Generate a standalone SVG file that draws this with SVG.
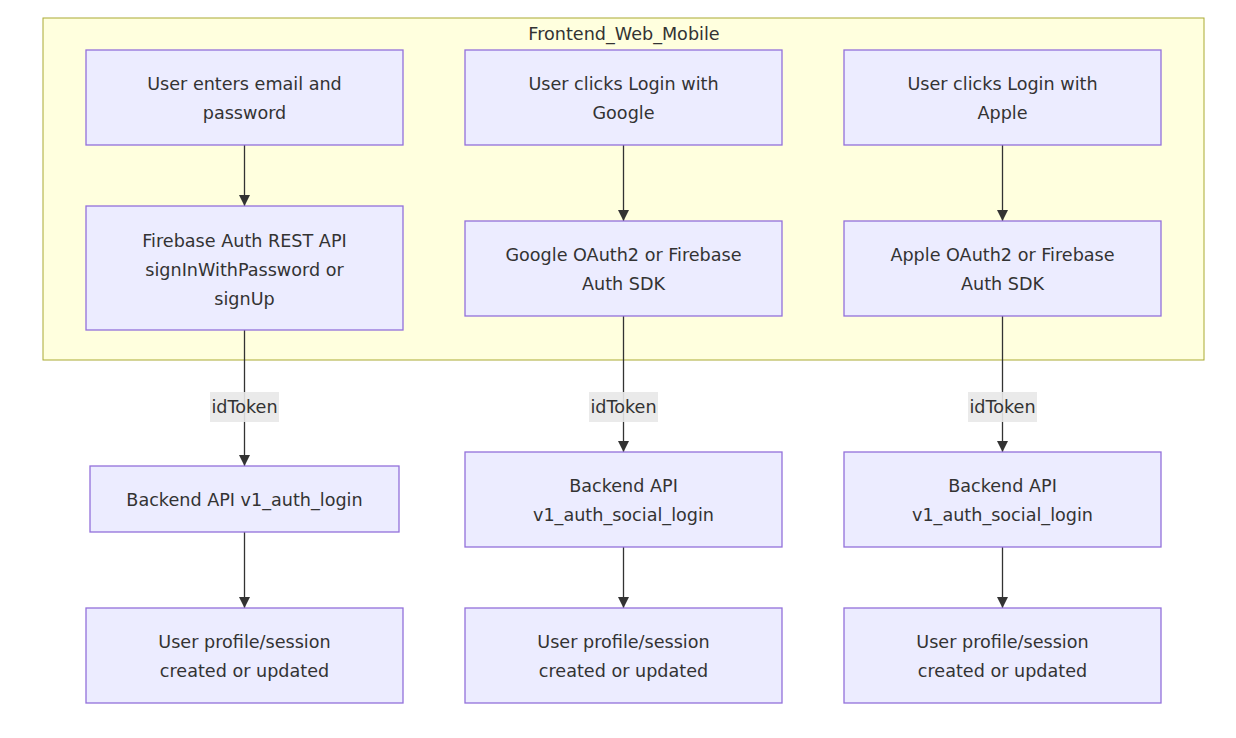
<svg xmlns="http://www.w3.org/2000/svg" width="1236" height="738" viewBox="0 0 1236 738">
<style>
  .node rect { fill: #ECECFF; stroke: #9370DB; stroke-width: 1.3; }
  .node text, .cl text, .lbl text { font-family: "DejaVu Sans", "Trebuchet MS", sans-serif; font-size: 17.6px; fill: #333; text-anchor: middle; }
  .edge { stroke: #333; stroke-width: 1.3; fill: none; marker-end: url(#arr); }
  .lbl rect { fill: #e8e8e8; opacity: 0.9; }
</style>
<defs>
  <marker id="arr" viewBox="0 0 10 10" refX="10" refY="5" markerWidth="11" markerHeight="11" markerUnits="userSpaceOnUse" orient="auto">
    <path d="M0,0 L10,5 L0,10 z" fill="#333"/>
  </marker>
</defs>
<rect width="1236" height="738" fill="#fff"/>
<g id="cluster" class="cl">
  <rect x="43" y="18" width="1161" height="342" fill="#ffffde" stroke="#aaaa33" stroke-width="1"/>
  <text x="624" y="40">Frontend_Web_Mobile</text>
</g>
<g id="edges">
  <line class="edge" x1="244.5" y1="145" x2="244.5" y2="206"/>
  <line class="edge" x1="244.5" y1="330" x2="244.5" y2="466"/>
  <line class="edge" x1="244.5" y1="532" x2="244.5" y2="608"/>
  <line class="edge" x1="623.5" y1="145" x2="623.5" y2="221"/>
  <line class="edge" x1="623.5" y1="316" x2="623.5" y2="452"/>
  <line class="edge" x1="623.5" y1="547" x2="623.5" y2="608"/>
  <line class="edge" x1="1002.5" y1="145" x2="1002.5" y2="221"/>
  <line class="edge" x1="1002.5" y1="316" x2="1002.5" y2="452"/>
  <line class="edge" x1="1002.5" y1="547" x2="1002.5" y2="608"/>
  <g class="lbl"><rect x="210" y="392" width="69" height="30"/><text x="244.5" y="412.5">idToken</text></g>
  <g class="lbl"><rect x="589" y="392" width="69" height="30"/><text x="623.5" y="412.5">idToken</text></g>
  <g class="lbl"><rect x="968" y="392" width="69" height="30"/><text x="1002.5" y="412.5">idToken</text></g>
</g>
<g id="A1" class="node"><rect x="86" y="50" width="317" height="95"/><text x="244.5" y="89.5">User enters email and</text><text x="244.5" y="118.5">password</text></g>
<g id="A2" class="node"><rect x="86" y="206" width="317" height="124"/><text x="244.5" y="246.5">Firebase Auth REST API</text><text x="244.5" y="275.5">signInWithPassword or</text><text x="244.5" y="304.5">signUp</text></g>
<g id="A3" class="node"><rect x="90" y="466" width="309" height="66"/><text x="244.5" y="505.5">Backend API v1_auth_login</text></g>
<g id="A4" class="node"><rect x="86" y="608" width="317" height="95"/><text x="244.5" y="647.5">User profile/session</text><text x="244.5" y="676.5">created or updated</text></g>
<g id="B1" class="node"><rect x="465" y="50" width="317" height="95"/><text x="623.5" y="89.5">User clicks Login with</text><text x="623.5" y="118.5">Google</text></g>
<g id="B2" class="node"><rect x="465" y="221" width="317" height="95"/><text x="623.5" y="260.5">Google OAuth2 or Firebase</text><text x="623.5" y="289.5">Auth SDK</text></g>
<g id="B3" class="node"><rect x="465" y="452" width="317" height="95"/><text x="623.5" y="491.5">Backend API</text><text x="623.5" y="520.5">v1_auth_social_login</text></g>
<g id="B4" class="node"><rect x="465" y="608" width="317" height="95"/><text x="623.5" y="647.5">User profile/session</text><text x="623.5" y="676.5">created or updated</text></g>
<g id="C1" class="node"><rect x="844" y="50" width="317" height="95"/><text x="1002.5" y="89.5">User clicks Login with</text><text x="1002.5" y="118.5">Apple</text></g>
<g id="C2" class="node"><rect x="844" y="221" width="317" height="95"/><text x="1002.5" y="260.5">Apple OAuth2 or Firebase</text><text x="1002.5" y="289.5">Auth SDK</text></g>
<g id="C3" class="node"><rect x="844" y="452" width="317" height="95"/><text x="1002.5" y="491.5">Backend API</text><text x="1002.5" y="520.5">v1_auth_social_login</text></g>
<g id="C4" class="node"><rect x="844" y="608" width="317" height="95"/><text x="1002.5" y="647.5">User profile/session</text><text x="1002.5" y="676.5">created or updated</text></g>
</svg>
